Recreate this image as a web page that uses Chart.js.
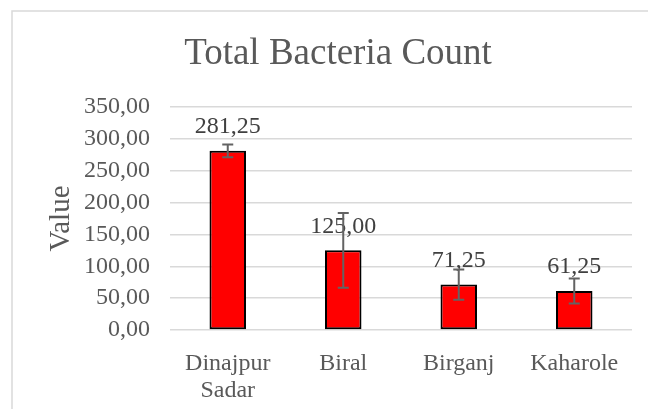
<!DOCTYPE html>
<html>
<head>
<meta charset="utf-8">
<title>Total Bacteria Count</title>
<script src="https://cdn.jsdelivr.net/npm/chart.js@4.4.1/dist/chart.umd.min.js"></script>
<style>
    html, body { margin: 0; padding: 0; background: #ffffff; }
    #wrap { width: 648px; height: 409px; position: relative; }
</style>
</head>
<body>
<div id="wrap"><canvas id="bacteriaChart" width="648" height="409"></canvas></div>
<script>
// Chart data
const categories = [['Dinajpur', 'Sadar'], 'Biral', 'Birganj', 'Kaharole'];
const counts = [281.25, 125.00, 71.25, 61.25];
const errors = [10, 58.5, 23.7, 19.7];   // +/- error bar sizes
const yTicks = [0, 50, 100, 150, 200, 250, 300, 350];

const TEXT_GREY = '#595959';
const SERIF = '"Liberation Serif", "Times New Roman", serif';

// Formats numbers the way the original did (comma as decimal separator)
function fmt(v) {
    return v.toFixed(2).replace('.', ',');
}

// Plugin: light grey frame around the whole chart
const framePlugin = {
    id: 'frame',
    beforeDraw(chart) {
        const ctx = chart.ctx;
        ctx.save();
        ctx.strokeStyle = '#d9d9d9';
        ctx.lineWidth = 1.5;
        ctx.strokeRect(12, 11, 700, 500);
        ctx.restore();
    }
};

// Plugin: error bars + value labels on top of each bar
const barExtrasPlugin = {
    id: 'barExtras',
    afterDatasetsDraw(chart) {
        const ctx = chart.ctx;
        const yScale = chart.scales.y;
        const meta = chart.getDatasetMeta(0);

        ctx.save();
        meta.data.forEach((bar, i) => {
            const x = bar.x;

            // value label, just above the bar
            ctx.font = '24px ' + SERIF;
            ctx.fillStyle = '#404040';
            ctx.textAlign = 'center';
            ctx.textBaseline = 'alphabetic';
            ctx.fillText(fmt(counts[i]), x, bar.y - 17.5);

            // error bar
            const yTop = yScale.getPixelForValue(counts[i] + errors[i]);
            const yBot = yScale.getPixelForValue(counts[i] - errors[i]);
            ctx.strokeStyle = '#636363';
            ctx.lineWidth = 2;
            ctx.beginPath();
            ctx.moveTo(x, yTop);
            ctx.lineTo(x, yBot);
            ctx.moveTo(x - 5.5, yTop);
            ctx.lineTo(x + 5.5, yTop);
            ctx.moveTo(x - 5.5, yBot);
            ctx.lineTo(x + 5.5, yBot);
            ctx.stroke();
        });
        ctx.restore();
    }
};

document.addEventListener('DOMContentLoaded', () => {
    const ctx = document.getElementById('bacteriaChart').getContext('2d');

    new Chart(ctx, {
        type: 'bar',
        data: {
            labels: categories,
            datasets: [{
                label: 'Value',
                data: counts,
                backgroundColor: '#ff0000',
                borderColor: '#000000',
                borderWidth: 2,
                borderSkipped: false,
                categoryPercentage: 1.0,
                barPercentage: 0.316
            }]
        },
        options: {
            responsive: false,
            animation: false,
            devicePixelRatio: 1,
            // left padding shifts the title centre to where the original has it
            layout: { padding: { top: 0, right: 16, bottom: 0, left: 44 } },
            plugins: {
                legend: { display: false },
                tooltip: { enabled: false },
                title: {
                    display: true,
                    text: 'Total Bacteria Count',
                    color: TEXT_GREY,
                    font: { family: SERIF, size: 37, weight: 'normal', lineHeight: 1.2 },
                    padding: { top: 32, bottom: 30.6 }
                }
            },
            scales: {
                x: {
                    grid: { display: false },
                    border: { display: false },
                    ticks: {
                        color: TEXT_GREY,
                        font: { family: SERIF, size: 24, lineHeight: 1.12 },
                        padding: 12,
                        maxRotation: 0,
                        autoSkip: false
                    },
                    afterFit(scale) { scale.height = 79; }
                },
                y: {
                    min: 0,
                    max: 350,
                    afterBuildTicks(scale) {
                        scale.ticks = yTicks.map(v => ({ value: v }));
                    },
                    grid: {
                        color: '#d9d9d9',
                        lineWidth: 1.5,
                        drawTicks: false
                    },
                    border: { display: false },
                    ticks: {
                        color: TEXT_GREY,
                        font: { family: SERIF, size: 24 },
                        padding: 20,
                        callback: (v) => fmt(v)
                    },
                    title: {
                        display: true,
                        text: 'Value',
                        color: TEXT_GREY,
                        font: { family: SERIF, size: 29 },
                        padding: { top: 0, bottom: 0 }
                    },
                    afterFit(scale) { scale.width = 126; }
                }
            }
        },
        plugins: [framePlugin, barExtrasPlugin]
    });
});
</script>
</body>
</html>
